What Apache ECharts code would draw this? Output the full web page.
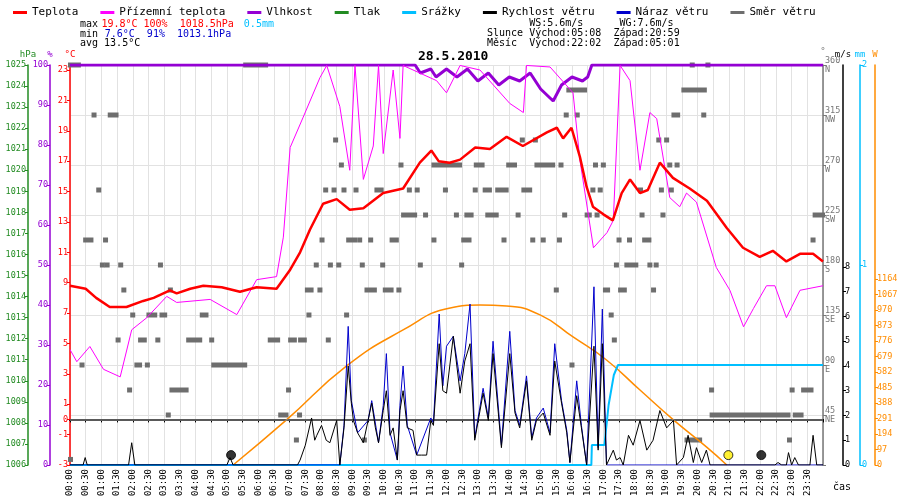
<!DOCTYPE html>
<html>
<head>
<meta charset="UTF-8">
<title>28.5.2010</title>
<script type="text/javascript" src="https://cdn.jsdelivr.net/npm/echarts@6/dist/echarts.min.js"></script>
</head>
<body style="margin:0">
<div id="main" style="width: 900px; height: 500px;"></div>
<script type="text/javascript">
// cas v minutach od pulnoci
var teplota = [[0,8.8],[30,8.6],[50,8.0],[76,7.4],[108,7.4],[140,7.8],[160,8.0],[191,8.5],[204,8.3],[230,8.6],[255,8.8],[290,8.7],[325,8.4],[357,8.7],[395,8.6],[420,9.8],[440,11.0],[459,12.5],[484,14.2],[510,14.5],[535,13.8],[561,13.9],[599,14.9],[637,15.2],[669,16.9],[691,17.7],[705,17.0],[726,16.9],[746,17.1],[775,17.9],[803,17.8],[835,18.6],[866,18.0],[912,18.9],[931,19.2],[943,18.5],[959,19.2],[975,17.3],[988,15.3],[1000,14.0],[1020,13.5],[1038,13.1],[1055,14.9],[1071,15.8],[1090,14.9],[1105,15.1],[1128,16.9],[1153,15.9],[1185,15.2],[1218,14.4],[1256,12.6],[1287,11.3],[1319,10.7],[1344,11.1],[1370,10.4],[1396,10.9],[1421,10.9],[1440,10.4]];
var prizemni = [[0,4.6],[13,3.8],[38,4.8],[64,3.3],[96,2.8],[118,5.9],[147,6.7],[185,8.1],[204,7.7],[268,7.9],[319,6.9],[357,9.2],[395,9.4],[408,12],[421,17.9],[446,19.9],[478,22.5],[491,23.3],[516,20.6],[535,16.4],[545,23.3],[561,15.8],[580,18.0],[590,23.3],[599,17.5],[618,23.0],[631,18.5],[637,23.3],[669,22.8],[701,22.3],[720,21.5],[746,23.3],[784,23.0],[841,20.8],[867,20.2],[873,23.3],[918,23.2],[962,21.5],[975,17.1],[1001,11.3],[1027,12.3],[1039,13.1],[1052,23.3],[1071,22.3],[1090,16.4],[1109,20.2],[1122,19.8],[1147,14.6],[1166,14.0],[1179,14.9],[1198,14.3],[1236,10.0],[1262,8.5],[1288,6.1],[1307,7.3],[1332,8.8],[1348,8.8],[1370,6.7],[1396,8.5],[1440,8.8]];
var vlhkost = [[0,100],[660,100],[670,98],[690,99],[700,97],[720,99],[740,97],[760,99],[780,96],[800,98],[820,95],[840,97],[860,96],[880,98],[900,94],[924,91],[940,95],[960,97],[980,96],[990,97],[998,100],[1440,100]];
var srazky = [[0,0],[997,0],[998,0.1],[1022,0.1],[1030,0.3],[1040,0.45],[1048,0.5],[1440,0.5]];
var rychlost = [[0,0],[25,0],[29,0.3],[33,0],[112,0],[118,0.9],[124,0],[300,0],[306,0.3],[312,0],[435,0],[440,0.2],[450,0.8],[462,1.9],[468,1.0],[472,1.2],[481,1.6],[490,1.0],[497,0.9],[510,1.8],[516,0],[524,1.5],[532,4.0],[538,2.5],[542,1.8],[550,1.3],[561,0.9],[570,1.8],[577,2.5],[584,1.5],[590,0.9],[599,2.2],[605,3.0],[612,1.2],[618,1.5],[626,0.2],[631,2.2],[637,3.0],[645,1.5],[656,1.4],[663,0.4],[672,0.4],[682,0.4],[690,1.8],[695,1.6],[706,4.9],[713,3.0],[720,2.9],[733,5.2],[746,2.9],[755,4.2],[765,4.9],[774,1.0],[790,2.9],[800,1.8],[809,4.5],[825,0.7],[841,4.5],[851,2.1],[860,1.5],[873,3.4],[883,1.0],[892,1.8],[905,2.1],[918,1.2],[927,4.2],[940,2.5],[950,1.3],[956,0.1],[969,2.8],[978,1.5],[988,0],[1002,4.8],[1010,0.6],[1018,4.9],[1026,0],[1039,0.6],[1045,0.2],[1052,0.3],[1058,0],[1068,1.2],[1077,0.8],[1090,1.8],[1103,0.6],[1115,1.0],[1128,2.2],[1141,1.5],[1154,1.8],[1160,0],[1173,0.3],[1182,1.2],[1192,0.1],[1198,0.7],[1208,0.1],[1217,0.6],[1224,0],[1348,0],[1354,0.1],[1361,0],[1370,0],[1374,0.5],[1380,0],[1386,0.3],[1393,0],[1415,0],[1421,1.2],[1428,0],[1440,0]];
var naraz = [[0,0],[516,0],[524,1.6],[532,5.6],[538,2.6],[550,1.3],[570,1.8],[577,2.6],[590,0.9],[599,2.4],[605,4.5],[612,1.3],[626,0.2],[631,2.4],[637,4.0],[645,1.6],[663,0.4],[690,1.9],[695,1.7],[706,6.1],[713,3.2],[720,4.8],[733,5.2],[746,3.4],[755,4.5],[765,6.5],[774,1.1],[790,3.1],[800,1.9],[809,5.0],[825,0.8],[841,5.4],[851,2.2],[860,1.6],[873,3.6],[883,1.1],[892,1.9],[905,2.3],[918,1.3],[927,4.9],[940,2.6],[950,1.4],[956,0.1],[969,3.4],[978,1.6],[988,0],[1002,7.2],[1010,0.7],[1018,6.3],[1026,0],[1440,0]];
var slunce = [[312,0],[414,282],[529,620],[637,845],[727,983],[784,1001],[835,995],[899,939],[962,801],[1026,657],[1090,469],[1154,282],[1217,113],[1256,0]];
// smer vetru: [od, do, stupne]
var smer = [[0,17,360],[335,375,360],[1189,1189,360],[1219,1219,360],
 [953,985,337.5],[1173,1214,337.5],
 [45,45,315],[76,89,315],[948,948,315],[969,969,315],[1154,1163,315],[1211,1211,315],
 [507,507,292.5],[864,864,292.5],[889,889,292.5],[1125,1125,292.5],[1140,1140,292.5],
 [518,518,270],[632,632,270],[695,746,270],[776,789,270],[838,851,270],[892,924,270],[938,938,270],[1004,1004,270],[1019,1019,270],[1146,1146,270],[1160,1160,270],
 [54,54,247.5],[488,488,247.5],[504,504,247.5],[523,523,247.5],[546,546,247.5],[586,596,247.5],[648,648,247.5],[663,663,247.5],[717,717,247.5],[774,774,247.5],[793,803,247.5],[817,835,247.5],[867,880,247.5],[999,999,247.5],[1013,1013,247.5],[1090,1090,247.5],[1130,1130,247.5],[1149,1149,247.5],
 [637,660,225],[679,679,225],[738,738,225],[758,768,225],[798,816,225],[856,856,225],[945,945,225],[988,994,225],[1007,1007,225],[1093,1093,225],[1133,1133,225],[1424,1440,225],
 [29,41,202.5],[67,67,202.5],[481,481,202.5],[532,545,202.5],[553,553,202.5],[574,574,202.5],[615,625,202.5],[695,695,202.5],[752,764,202.5],[829,829,202.5],[884,884,202.5],[904,904,202.5],[935,935,202.5],[1049,1049,202.5],[1069,1069,202.5],[1098,1108,202.5],[1420,1420,202.5],
 [61,61,180],[70,70,180],[96,96,180],[172,172,180],[470,470,180],[497,497,180],[513,513,180],[558,558,180],[597,597,180],[669,669,180],[748,748,180],[1044,1044,180],[1064,1083,180],[1108,1108,180],[1120,1120,180],
 [102,102,157.5],[191,191,157.5],[453,462,157.5],[477,477,157.5],[567,583,157.5],[602,615,157.5],[628,628,157.5],[929,929,157.5],[1023,1029,157.5],[1052,1061,157.5],[1115,1115,157.5],
 [119,119,135],[150,163,135],[175,182,135],[252,261,135],[456,456,135],[528,528,135],[1034,1034,135],
 [91,91,112.5],[134,143,112.5],[167,167,112.5],[226,249,112.5],[270,270,112.5],[382,398,112.5],[421,430,112.5],[440,449,112.5],[493,493,112.5],[1040,1040,112.5],
 [22,22,90],[127,134,90],[147,147,90],[274,335,90],[959,959,90],
 [113,113,67.5],[194,223,67.5],[417,417,67.5],[1226,1226,67.5],[1380,1380,67.5],[1402,1418,67.5],
 [187,187,45],[402,414,45],[438,438,45],[1227,1374,45],[1386,1399,45],
 [432,432,22.5],[562,562,22.5],[1179,1205,22.5],[1375,1375,22.5],
 [0,0,5]];
var vychodZapad = [[308,0.4,'#000000'],[1259,0.4,'#ffee00'],[1322,0.4,'#000000']];
var teplotaTicks = [-3,-1,0,1,3,5,7,9,11,13,15,17,19,21,23];
var rychlostTicks = [0,1,2,3,4,5,6,7,8];
var slunceTicks = [0,97,194,291,388,485,582,679,776,873,970,1067,1164];
var smerNazvy = {45:'NE',90:'E',135:'SE',180:'S',225:'SW',270:'W',315:'NW',360:'N'};

var mono = 'DejaVu Sans Mono';
var myChart = echarts.init(document.getElementById('main'));

function osa(color, extra) {
    var o = {
        type: 'value',
        axisLine: {show: true, lineStyle: {color: color, width: 1.5}},
        axisTick: {show: true, length: 3, lineStyle: {color: color}},
        axisLabel: {color: color, fontFamily: mono, fontSize: 8.5, margin: 2, formatter: function (v) { return String(v); }},
        splitLine: {show: false},
        nameLocation: 'end',
        nameGap: 6,
        nameTextStyle: {color: color, fontFamily: mono, fontSize: 9}
    };
    for (var k in extra) o[k] = extra[k];
    return o;
}

var option = {
    animation: false,
    textStyle: {fontFamily: mono},
    legend: {
        left: 8, top: 2, itemWidth: 14, itemHeight: 3, icon: 'rect', itemGap: 22,
        textStyle: {fontFamily: mono, fontSize: 11, color: '#000'},
        data: ['Teplota', 'Přízemní teplota', 'Vlhkost', 'Tlak', 'Srážky', 'Rychlost větru', 'Náraz větru', 'Směr větru']
    },
    graphic: [
        {type: 'text', left: 80, top: 18, style: {text: '{k|max} {r|19.8°C 100%  1018.5hPa}   {c|0.5mm}', rich: {k: {fill: '#000', fontFamily: mono, fontSize: 10}, r: {fill: '#f00', fontFamily: mono, fontSize: 10}, c: {fill: '#00bfff', fontFamily: mono, fontSize: 10}}}},
        {type: 'text', left: 80, top: 28, style: {text: '{k|min}  {b|7.6°C  91%  1013.1hPa}', rich: {k: {fill: '#000', fontFamily: mono, fontSize: 10}, b: {fill: '#0000cc', fontFamily: mono, fontSize: 10}}}},
        {type: 'text', left: 80, top: 38, style: {text: 'avg 13.5°C', fill: '#000', font: '10px ' + mono}},
        {type: 'text', left: 487, top: 18, style: {text: '       WS:5.6m/s      WG:7.6m/s\nSlunce Východ:05:08  Západ:20:59\nMěsíc  Východ:22:02  Západ:05:01', fill: '#000', font: '10px ' + mono, lineHeight: 10}},
        {type: 'text', left: 418, top: 50, style: {text: '28.5.2010', fill: '#000', font: 'bold 13px ' + mono}},
        {type: 'text', left: 833, top: 482, style: {text: 'čas', fill: '#000', font: '10px ' + mono}}
    ],
    grid: {left: 70, right: 77, top: 65, bottom: 35, outerBoundsMode: 'none', containLabel: false},
    xAxis: {
        type: 'value', min: 0, max: 1440, interval: 30,
        axisLine: {lineStyle: {color: '#000', width: 2}},
        axisTick: {show: true, length: 3},
        splitLine: {show: true, lineStyle: {color: '#e2e2e2'}},
        axisLabel: {
            rotate: 90, fontFamily: mono, fontSize: 9, color: '#000', margin: 4,
            formatter: function (v) {
                if (v >= 1440) return '';
                var h = Math.floor(v / 60), m = v % 60;
                return (h < 10 ? '0' : '') + h + ':' + (m < 10 ? '0' : '') + m;
            }
        }
    },
    yAxis: [
        osa('#ff0000', {name: '°C', position: 'left', min: -3, max: 23.33,
            axisLabel: {color: '#ff0000', fontFamily: mono, fontSize: 8.5, margin: 2, customValues: teplotaTicks},
            axisTick: {show: true, length: 3, lineStyle: {color: '#ff0000'}, customValues: teplotaTicks}}),
        osa('#9400d3', {name: '%', position: 'left', offset: 20, min: 0, max: 100, interval: 10}),
        osa('#228b22', {name: 'hPa', position: 'left', offset: 42, min: 1006, max: 1025, interval: 1}),
        osa('#777777', {name: '°', position: 'right', min: 0, max: 360, interval: 45,
            splitLine: {show: true, lineStyle: {color: '#e2e2e2'}},
            axisLabel: {color: '#777', fontFamily: mono, fontSize: 8.5, margin: 2, lineHeight: 9,
                formatter: function (v) { return v === 0 ? '' : v + '\n' + smerNazvy[v]; }}}),
        osa('#000000', {name: 'm/s', position: 'right', offset: 20, min: 0, max: 16.16,
            axisLabel: {color: '#000', fontFamily: mono, fontSize: 8.5, margin: 2, customValues: rychlostTicks},
            axisTick: {show: true, length: 3, customValues: rychlostTicks}}),
        osa('#00bfff', {name: 'mm', position: 'right', offset: 37, min: 0, max: 2, interval: 1}),
        osa('#ff8c00', {name: 'W', position: 'right', offset: 52, min: 0, max: 2503,
            axisLabel: {color: '#ff8c00', fontFamily: mono, fontSize: 8.5, margin: 2, customValues: slunceTicks,
                formatter: function (v) { return String(v); }},
            axisTick: {show: true, length: 3, lineStyle: {color: '#ff8c00'}, customValues: slunceTicks}})
    ],
    series: [
        {name: 'Směr větru', type: 'custom', yAxisIndex: 3, z: 2,
            itemStyle: {color: '#6e6e6e'},
            renderItem: function (params, api) {
                var a = api.coord([api.value(0), api.value(2)]);
                var b = api.coord([api.value(1), api.value(2)]);
                return {type: 'rect', shape: {x: a[0] - 2, y: a[1] - 2.5, width: Math.max(b[0] - a[0] + 4, 5), height: 5},
                    style: {fill: '#6e6e6e'}};
            },
            encode: {x: [0, 1], y: 2},
            data: smer},
        {name: 'Tlak', type: 'line', yAxisIndex: 2, data: [], itemStyle: {color: '#228b22'}},
        {name: 'Vlhkost', type: 'line', yAxisIndex: 1, data: vlhkost, showSymbol: false,
            lineStyle: {color: '#9400d3', width: 3}, itemStyle: {color: '#9400d3'}, z: 3},
        {name: 'Přízemní teplota', type: 'line', data: prizemni, showSymbol: false,
            lineStyle: {color: '#ff00ff', width: 1}, itemStyle: {color: '#ff00ff'}, z: 4,
            markLine: {silent: true, symbol: 'none', label: {show: false},
                lineStyle: {color: '#777', type: 'solid', width: 1.5}, data: [{yAxis: 0}]}},
        {name: 'Teplota', type: 'line', data: teplota, showSymbol: false,
            lineStyle: {color: '#ff0000', width: 2.5}, itemStyle: {color: '#ff0000'}, z: 5},
        {name: 'Slunce', type: 'line', yAxisIndex: 6, data: slunce, showSymbol: false, smooth: true,
            lineStyle: {color: '#ff8c00', width: 1.5}, itemStyle: {color: '#ff8c00'}, z: 4},
        {name: 'Srážky', type: 'line', yAxisIndex: 5, data: srazky, showSymbol: false,
            lineStyle: {color: '#00bfff', width: 2}, itemStyle: {color: '#00bfff'}, z: 5},
        {name: 'Náraz větru', type: 'line', yAxisIndex: 4, data: naraz, showSymbol: false,
            lineStyle: {color: '#0000cc', width: 1}, itemStyle: {color: '#0000cc'}, z: 6},
        {name: 'Rychlost větru', type: 'line', yAxisIndex: 4, data: rychlost, showSymbol: false,
            lineStyle: {color: '#000', width: 1}, itemStyle: {color: '#000'}, z: 7},
        {name: 'Východ a západ', type: 'scatter', yAxisIndex: 4, symbolSize: 9, z: 8,
            data: vychodZapad.map(function (d) {
                return {value: [d[0], d[1]], itemStyle: {color: d[2], borderColor: '#000', borderWidth: 1}};
            })}
    ]
};
myChart.setOption(option);
</script>
</body>
</html>
